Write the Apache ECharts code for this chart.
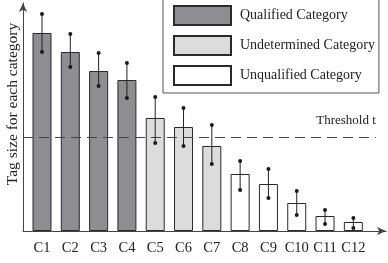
<!DOCTYPE html>
<html>
<head>
<meta charset="utf-8">
<script src="https://cdn.jsdelivr.net/npm/echarts@6/dist/echarts.min.js"></script>
<style>html,body{margin:0;padding:0;background:#fff}#c{width:388px;height:263px}</style>
</head>
<body>
<div id="c"></div>
<script>
var categories = ['C1','C2','C3','C4','C5','C6','C7','C8','C9','C10','C11','C12'];
var tagSize = [198, 179, 160, 151, 113, 104, 85, 57, 47, 28, 15, 9];
var errHigh = [217, 197, 178, 168, 134, 123, 106, 70, 62, 40, 21, 13];
var errLow  = [179, 164, 145, 133, 88, 85, 67, 41, 33, 16, 7, 3];
var classOf = ['Q','Q','Q','Q','D','D','D','N','N','N','N','N'];
var classNames = {Q: 'Qualified Category', D: 'Undetermined Category', N: 'Unqualified Category'};
var classFill = {Q: '#8e8e92', D: '#dcdcdc', N: '#ffffff'};
var threshold = 94;
var yMax = 228;

var FONT = 'Liberation Serif';
var chart = echarts.init(document.getElementById('c'), null, {renderer: 'canvas'});

var barSeries = ['Q','D','N'].map(function (k) {
  return {
    name: classNames[k],
    type: 'bar',
    stack: 'all',
    xAxisIndex: 0, yAxisIndex: 0,
    barWidth: 19,
    itemStyle: {color: classFill[k], borderColor: '#2a2a2a', borderWidth: 1},
    data: tagSize.map(function (v, i) { return classOf[i] === k ? v : '-'; }),
    silent: true
  };
});

var errData = categories.map(function (c, i) { return [i, errLow[i], errHigh[i]]; });

var option = {
  animation: false,
  backgroundColor: '#fff',
  grid: [
    {left: 27.85, right: 20.5, top: 3, bottom: 32},
    {left: 23, right: 2, top: 3, bottom: 32}
  ],
  xAxis: [
    {type: 'category', gridIndex: 0, data: categories,
     axisLine: {show: false}, axisTick: {show: false},
     axisLabel: {interval: 0, margin: 10, fontFamily: FONT, fontSize: 14.5, color: '#222'}},
    {type: 'value', gridIndex: 1, min: 0, max: 1,
     axisLine: {show: true, lineStyle: {color: '#444', width: 1}, symbol: ['none','arrow'], symbolSize: [6, 9]},
     axisTick: {show: false}, axisLabel: {show: false}, splitLine: {show: false}}
  ],
  yAxis: [
    {type: 'value', gridIndex: 0, min: 0, max: yMax,
     axisLine: {show: false}, axisTick: {show: false}, axisLabel: {show: false}, splitLine: {show: false}},
    {type: 'value', gridIndex: 1, min: 0, max: yMax,
     axisLine: {show: true, lineStyle: {color: '#444', width: 1}, symbol: ['none','arrow'], symbolSize: [6, 9]},
     axisTick: {show: false}, axisLabel: {show: false}, splitLine: {show: false}}
  ],
  legend: {
    orient: 'vertical',
    left: 163, top: -2,
    padding: [7, 4, 7, 10],
    icon: 'rect',
    itemWidth: 57, itemHeight: 19, itemGap: 9,
    borderColor: '#555', borderWidth: 1,
    textStyle: {fontFamily: FONT, fontSize: 14, color: '#222', padding: [0, 0, 0, 4]},
    data: ['Qualified Category','Undetermined Category','Unqualified Category'],
    selectedMode: false
  },
  graphic: [
    {type: 'text', x: 13, y: 104, rotation: Math.PI / 2,
     style: {text: 'Tag size for each category', font: '15.5px "Liberation Serif"', fill: '#222', textAlign: 'center', textVerticalAlign: 'middle'}}
  ],
  series: barSeries.concat([
    {
      type: 'custom',
      xAxisIndex: 0, yAxisIndex: 0,
      silent: true,
      data: errData,
      renderItem: function (params, api) {
        var top = api.coord([api.value(0), api.value(2)]);
        var bot = api.coord([api.value(0), api.value(1)]);
        var st = {fill: '#1a1a1a'};
        return {type: 'group', children: [
          {type: 'line', shape: {x1: top[0], y1: top[1], x2: bot[0], y2: bot[1]}, style: {stroke: '#222', lineWidth: 1}},
          {type: 'circle', shape: {cx: top[0], cy: top[1], r: 2}, style: st},
          {type: 'circle', shape: {cx: bot[0], cy: bot[1], r: 2}, style: st}
        ]};
      },
      z: 5
    },
    {
      type: 'line',
      xAxisIndex: 1, yAxisIndex: 1,
      data: [],
      silent: true,
      markLine: {
        silent: true,
        symbol: ['none','none'],
        lineStyle: {color: '#444', type: [10, 6], width: 1},
        label: {show: true, position: 'insideEndTop', distance: [0, 10], formatter: 'Threshold t',
                fontFamily: FONT, fontSize: 13, color: '#222'},
        data: [[{coord: [0, threshold]}, {coord: [0.972, threshold]}]]
      }
    }
  ])
};
chart.setOption(option);
</script>
</body>
</html>
